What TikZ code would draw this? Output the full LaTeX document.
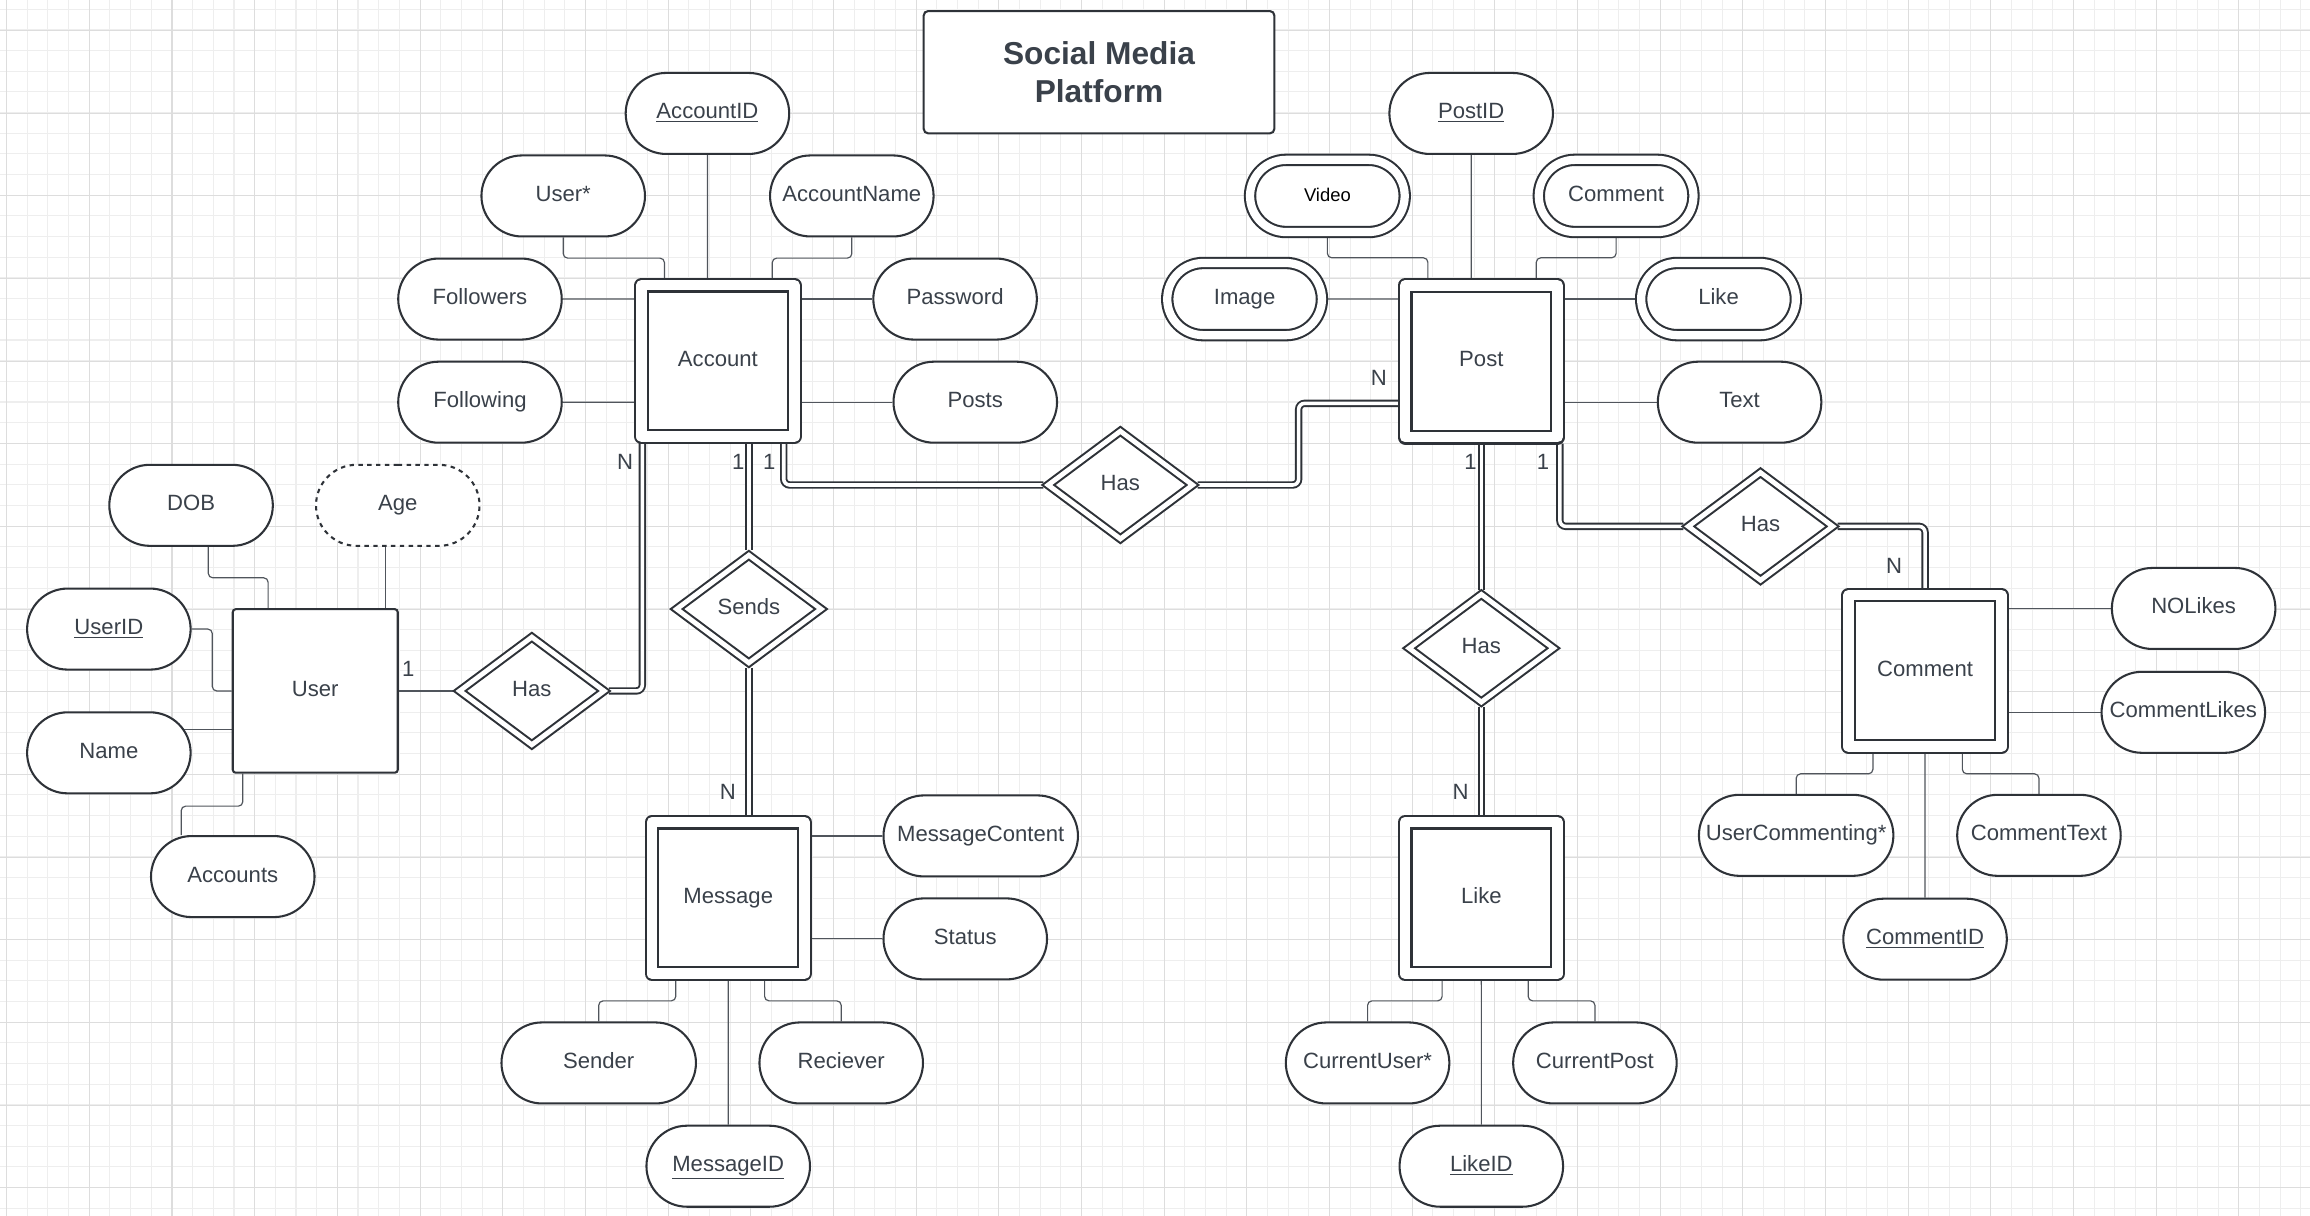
\documentclass[tikz,border=0pt]{standalone}
\usepackage{fontspec}
\setmainfont{Liberation Sans}
\usetikzlibrary{shapes.geometric,shapes.misc}

\definecolor{ink}{HTML}{2E3238}
\definecolor{txt}{HTML}{3A414A}
\definecolor{wire}{HTML}{50555C}
\definecolor{gridlo}{HTML}{EEEEEE}
\definecolor{gridhi}{HTML}{DDDDDD}

\pgfdeclarelayer{paper}
\pgfdeclarelayer{wires}
\pgfsetlayers{paper,wires,main}

\tikzset{
  lbl/.style={font=\fontsize{15}{18}\selectfont, text=txt, inner sep=0pt,
    text height=11pt, text depth=3.5pt},
  attr/.style={lbl, rounded rectangle, draw=ink, line width=1.4pt, fill=white,
    minimum width=111pt, minimum height=55pt},
  wideattr/.style={attr, minimum width=132pt},
  multi/.style={attr, double, double distance=5.6pt, outer sep=3.5pt,
    minimum width=105pt, minimum height=49pt},
  derived/.style={attr, dash pattern=on 3pt off 3pt},
  entity/.style={lbl, rectangle, draw=ink, line width=1.4pt, fill=white,
    rounded corners=2pt, minimum width=112pt, minimum height=111pt},
  weak/.style={entity, sharp corners, line join=round, double,
    double distance=7.3pt, outer sep=4.35pt,
    minimum width=103.5pt, minimum height=103pt},
  rel/.style={lbl, diamond, draw=ink, line width=1.4pt, fill=white, double,
    double distance=3.3pt, outer sep=2.35pt,
    minimum width=100pt, minimum height=75pt},
  card/.style={font=\fontsize{15}{18}\selectfont, text=txt, inner sep=0pt},
  link/.style={draw=wire, line width=0.8pt, rounded corners=3pt},
  duallink/.style={draw=ink, line width=1.3pt, double, double distance=2.4pt,
    rounded corners=4pt},
}

\begin{document}
\begin{tikzpicture}[x=1pt, y=-1pt]
  \useasboundingbox (0,0) rectangle (1568,825.4);
  %% Draw the paper grid
  \begin{pgfonlayer}{paper}
    \fill[white] (0,0) rectangle (1568,825.4);
    \foreach \i in {0,...,111}
      \draw[gridlo, line width=0.7pt] ({4.5+14.03*\i},0) -- ++(0,825.4);
    \foreach \j in {0,...,58}
      \draw[gridlo, line width=0.7pt] (0,{6.3+14.03*\j}) -- ++(1568,0);
    \foreach \i in {0,...,27}
      \draw[gridhi, line width=0.7pt] ({4.5+56.12*\i},0) -- ++(0,825.4);
    \foreach \j in {0,...,14}
      \draw[gridhi, line width=0.7pt] (0,{20.6+56.12*\j}) -- ++(1568,0);
  \end{pgfonlayer}

  %% Draw the title
  \node[draw=ink, line width=1.4pt, fill=white, rounded corners=3pt,
    minimum width=238pt, minimum height=83pt, align=center, text=txt,
    font=\fontsize{21.5}{26}\selectfont\bfseries] (title) at (746,49) {Social Media\\Platform};

  %% Draw the entities
  \node[weak] (acc) at (487.3,245) {Account};
  \node[weak] (post) at (1005.5,245.2) {Post};
  \node[entity] (user) at (214,469) {User};
  \node[weak] (msg) at (494.3,609.5) {Message};
  \node[weak] (like) at (1005.5,609.5) {Like};
  \node[weak] (cmt) at (1306.7,455.4) {Comment};

  %% Draw the relationships
  \node[rel] (hasUA) at (361,469) {Has};
  \node[rel] (sends) at (508.3,413.4) {Sends};
  \node[rel] (hasAP) at (760.5,329.2) {Has};
  \node[rel] (hasPL) at (1005.5,440) {Has};
  \node[rel] (hasPC) at (1195,357.3) {Has};

  %% Draw the attributes
  \node[attr] (aid) at (480.2,77) {\underline{AccountID}};
  \node[attr] (ausr) at (382.3,133) {User*};
  \node[attr] (aname) at (578.2,133) {AccountName};
  \node[attr] (afoll) at (325.8,203) {Followers};
  \node[attr] (afing) at (325.8,273) {Following};
  \node[attr] (apass) at (648.3,203) {Password};
  \node[attr] (aposts) at (662,273) {Posts};
  \node[attr] (udob) at (129.7,343) {DOB};
  \node[derived] (uage) at (270,343) {Age};
  \node[attr] (uid) at (73.9,427) {\underline{UserID}};
  \node[attr] (uname) at (73.9,511) {Name};
  \node[attr] (uacc) at (158,595) {Accounts};
  \node[attr] (pid) at (998.6,77) {\underline{PostID}};
  \node[multi, font=\fontsize{12.5}{15}\selectfont, text=black] (pvid) at (901,133) {Video};
  \node[multi] (pcom) at (1097,133) {Comment};
  \node[multi] (pimg) at (844.8,203) {Image};
  \node[multi] (plike) at (1166.5,203) {Like};
  \node[attr] (ptext) at (1180.8,273) {Text};
  \node[wideattr] (mcont) at (665.7,567.4) {MessageContent};
  \node[attr] (mstat) at (655.2,637.3) {Status};
  \node[wideattr] (msend) at (406.4,721.5) {Sender};
  \node[attr] (mrec) at (571,721.5) {Reciever};
  \node[attr] (mid) at (494.3,791.6) {\underline{MessageID}};
  \node[attr] (lusr) at (928.3,721.5) {CurrentUser*};
  \node[attr] (lpost) at (1082.6,721.5) {CurrentPost};
  \node[attr] (lid) at (1005.5,791.6) {\underline{LikeID}};
  \node[attr] (cnol) at (1489,413) {NOLikes};
  \node[attr] (cclk) at (1482,483.5) {CommentLikes};
  \node[wideattr] (cucm) at (1219.2,567) {UserCommenting*};
  \node[attr] (ctext) at (1384,567) {CommentText};
  \node[attr] (cid) at (1306.7,637.5) {\underline{CommentID}};

  %% Draw the cardinalities
  \node[card] (cUser) at (277.1,453.7) {1};
  \node[card] (cAccN) at (424.3,313.4) {N};
  \node[card] (cAccS) at (501.2,313.4) {1};
  \node[card] (cAccP) at (522.2,313.4) {1};
  \node[card] (cMsg) at (494,537.4) {N};
  \node[card] (cPostA) at (935.9,256.8) {N};
  \node[card] (cPostL) at (998.1,313.4) {1};
  \node[card] (cPostC) at (1047.4,313.4) {1};
  \node[card] (cLike) at (991.5,537.8) {N};
  \node[card] (cCmt) at (1285.6,384.2) {N};

  \begin{pgfonlayer}{wires}
    %% Account attributes
    \draw[link] (aid) -- (aid |- acc.north);
    \draw[link] (ausr.south) -- ++(0,14) -| ([xshift=-36.3pt]acc.north);
    \draw[link] (aname.south) -- ++(0,14) -| ([xshift=36.9pt]acc.north);
    \draw[link] (afoll) -- (afoll -| acc.west);
    \draw[link] (afing) -- (afing -| acc.west);
    \draw[link] (apass) -- (apass -| acc.east);
    \draw[link] (aposts) -- (aposts -| acc.east);
    %% User attributes
    \draw[link] ([xshift=11.7pt]udob.south) -- ++(0,21) -| ([xshift=-32pt]user.north);
    \draw[link] ([xshift=-8.3pt]uage.south) -- ([xshift=-8.3pt]user.north -| uage);
    \draw[link] (uid.east) -- ++(14,0) |- (user.west);
    \draw[link] ([yshift=-26pt]user.west) -- ([yshift=-26pt]user.west -| uname);
    \draw[link] ([xshift=-49.2pt]user.south) -- ++(0,22) -| ([xshift=-35pt]uacc.north);
    \draw[link] (user) -- (hasUA);
    %% Message attributes
    \draw[link] (mcont) -- (mcont -| msg.east);
    \draw[link] (mstat) -- (mstat -| msg.east);
    \draw[link] ([xshift=-35.6pt]msg.south) -- ++(0,14) -| (msend.north);
    \draw[link] ([xshift=24.7pt]msg.south) -- ++(0,14) -| (mrec.north);
    \draw[link] (msg) -- (mid);
    %% Post attributes
    \draw[link] (pid) -- (pid |- post.north);
    \draw[link] (pvid.south) -- ++(0,14) -| ([xshift=-36.3pt]post.north);
    \draw[link] (pcom.south) -- ++(0,14) -| ([xshift=37.3pt]post.north);
    \draw[link] (pimg) -- (pimg -| post.west);
    \draw[link] (plike) -- (plike -| post.east);
    \draw[link] (ptext) -- (ptext -| post.east);
    %% Like attributes
    \draw[link] ([xshift=-26.6pt]like.south) -- ++(0,14) -| (lusr.north);
    \draw[link] ([xshift=31.8pt]like.south) -- ++(0,14) -| (lpost.north);
    \draw[link] (like) -- (lid);
    %% Comment attributes
    \draw[link] (cnol) -- (cnol -| cmt.east);
    \draw[link] (cclk) -- (cclk -| cmt.east);
    \draw[link] ([xshift=-35.4pt]cmt.south) -- ++(0,14) -| (cucm.north);
    \draw[link] ([xshift=25.3pt]cmt.south) -- ++(0,14) -| (ctext.north);
    \draw[link] (cmt) -- (cid);
    %% Relationship edges
    \begin{scope}[every path/.style=duallink]
      \draw (hasUA) -| ([xshift=-51.3pt]acc.south);
      \draw (acc.south -| sends) -- (sends);
      \draw (sends) -- (sends |- msg.north);
      \draw ([xshift=44.7pt]acc.south) |- (hasAP);
      \draw (hasAP) -- ++(121,0) |- ([yshift=-28.6pt]post.west);
      \draw (post) -- (hasPL);
      \draw (hasPL) -- (like);
      \draw ([xshift=53.3pt]post.south) |- (hasPC);
      \draw (hasPC) -| (cmt);
    \end{scope}
  \end{pgfonlayer}
\end{tikzpicture}
\end{document}
